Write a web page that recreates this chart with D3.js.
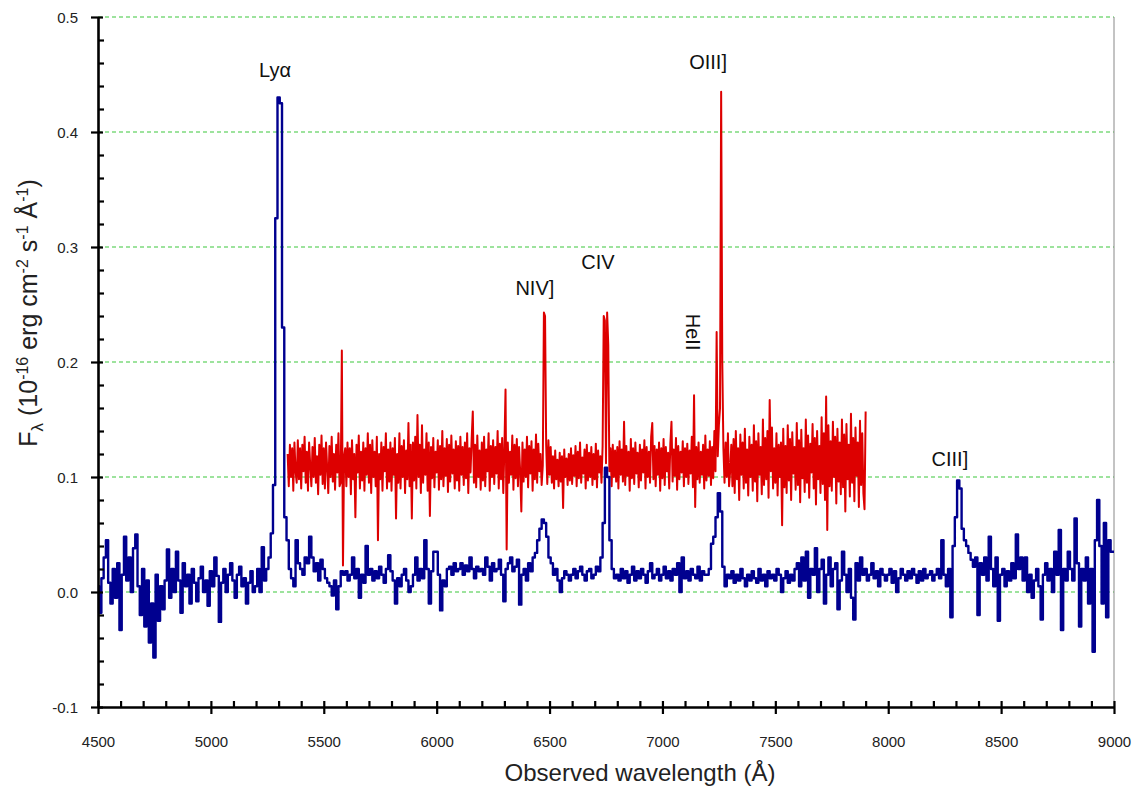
<!DOCTYPE html>
<html><head><meta charset="utf-8">
<script src="https://cdn.jsdelivr.net/npm/d3@7"></script>
<style>body{margin:0;background:#fff}</style>
</head><body>
<svg id="c" width="1135" height="787"></svg>
<script>
// Blue spectrum: sampled every 10 Å from 4500 Å, flux in units of 1e-3 (x 1e-16 erg cm-2 s-1 Å-1)
const blueStart = 4500, blueStep = 10;
const blueFlux = [
5,-18,12,30,45,8,-10,20,-5,25,
-33,15,48,10,30,0,38,50,5,-20,
20,-30,10,-44,-10,-57,15,-25,5,-15,
10,37,-5,20,0,35,10,-18,25,5,
15,-10,20,8,-8,12,22,0,10,-12,
18,5,30,14,-26,8,20,0,15,25,
10,-5,15,22,5,12,-10,8,18,0,
5,20,0,39,10,20,30,51,93,325,
430,425,230,65,45,20,12,5,45,25,
20,15,30,25,48,30,18,25,10,28,
20,12,8,5,-3,10,-15,5,18,15,
18,10,15,30,12,20,-5,15,8,40,
15,20,10,18,12,22,15,8,20,32,
18,10,-10,12,5,15,20,10,0,5,
15,30,10,20,12,45,20,-10,18,35,
35,15,-16,10,5,20,22,15,25,18,
20,25,15,23,18,30,20,12,22,18,
20,15,30,22,10,25,18,20,28,15,
-8,20,25,30,18,22,28,-11,15,20,
10,25,18,30,34,45,55,63,60,48,
30,25,15,20,10,0,12,18,15,10,
15,20,12,18,22,15,10,18,20,12,
15,22,18,30,60,108,100,45,20,12,
15,10,20,12,18,8,15,22,10,18,
12,20,15,8,18,25,12,15,20,10,
15,22,12,18,10,20,15,25,0,30,
12,18,10,20,15,12,22,10,18,15,
15,20,42,48,65,86,70,22,5,15,
12,18,8,15,10,20,12,5,15,10,
18,12,8,20,10,15,5,18,12,15,
10,20,15,0,12,18,8,15,10,20,
25,5,30,10,35,-5,20,15,38,0,
20,28,-10,15,30,5,20,25,-15,10,
35,15,0,20,-5,-24,25,10,30,15,
20,10,15,25,12,18,5,20,15,10,
15,20,8,18,0,12,20,15,10,18,
12,20,15,8,18,10,20,12,15,18,
10,15,20,12,45,15,5,20,-22,40,
65,97,90,55,45,40,34,28,22,30,
-20,25,15,30,10,48,20,5,30,-25,
15,20,5,18,10,25,12,50,20,30,
10,30,0,15,-5,10,20,5,-24,15,
25,10,20,0,35,15,54,-33,20,10,
35,20,10,64,25,-30,20,10,30,-10,
20,-52,45,80,40,-10,60,-22,45,35,
35
];
// Red spectrum: sampled every 5 Å from 5340 Å, flux in units of 1e-3
const redStart = 5340, redStep = 5;
const redFlux = [
120,92,128,100,125,88,130,105,95,132,98,125,
90,128,105,135,95,122,88,130,110,92,126,100,134,95,118,85,128,102,136,94,
125,90,130,108,86,127,100,135,96,120,89,128,104,138,92,95,210,23,118,125,
92,130,100,125,85,132,98,120,65,128,104,136,90,122,97,130,88,125,102,138,
95,128,86,132,100,122,92,135,45,120,98,130,88,126,105,138,90,124,96,130,
88,125,102,134,64,120,95,138,90,127,100,132,86,123,98,147,92,128,64,130,
97,135,90,154,100,128,86,145,95,124,102,138,88,130,66,126,99,134,91,122,
104,132,89,127,98,140,92,125,101,133,87,128,96,136,103,124,90,131,97,127,
88,135,102,126,93,130,99,138,86,125,104,133,157,95,128,91,136,100,123,89,
130,97,135,92,124,105,138,88,127,100,132,94,126,103,140,90,129,98,134,86,
125,176,37,130,95,122,102,136,89,128,99,133,92,126,104,70,130,96,124,100,
135,91,127,103,131,88,124,98,137,95,129,105,120,93,110,243,240,128,94,132,
102,126,95,118,90,123,98,115,92,121,96,118,73,124,100,116,93,120,97,125,
94,119,101,127,92,122,99,130,95,117,103,124,90,128,97,121,100,126,93,120,
98,129,91,123,104,118,95,127,240,236,112,243,215,105,125,92,128,100,123,96,
126,90,131,102,124,96,148,93,127,101,122,88,133,99,125,94,130,103,121,91,
128,97,124,104,132,90,126,100,122,95,135,147,98,127,92,124,102,130,88,125,
99,133,93,126,105,121,90,129,148,96,124,101,134,89,127,98,122,104,131,92,
125,100,129,94,123,103,135,91,171,74,126,98,130,95,122,102,128,90,136,97,
124,101,131,93,126,99,140,105,226,118,145,160,435,200,125,95,130,100,138,92,
105,128,92,133,86,140,98,125,80,137,102,130,90,142,95,124,84,135,100,128,
88,145,96,131,79,138,102,126,85,150,93,134,98,140,82,167,105,143,90,125,
95,138,84,128,100,130,58,142,91,127,86,145,97,133,80,139,103,126,89,147,
93,132,78,141,99,125,87,150,95,136,82,129,104,146,90,134,76,140,98,127,
86,152,94,138,80,170,54,145,92,131,88,148,100,135,77,142,96,130,85,150,
91,137,70,146,98,128,83,155,95,134,79,143,101,130,74,149,93,138,86,72,
157
];
const xTicks = [4500,5000,5500,6000,6500,7000,7500,8000,8500,9000];
const xTickLabels = ["4500","5000","5500","6000","6500","7000","7500","8000","8500","9000"];
const yTicks = [-0.1,0,0.1,0.2,0.3,0.4,0.5];
const yTickLabels = ["-0.1","0.0","0.1","0.2","0.3","0.4","0.5"];
const gridValues = [0,0.1,0.2,0.3,0.4,0.5];
const lineLabels = [
  {text:"Lyα", w:5284, f:0.448, rot:0},
  {text:"OIII]", w:7202, f:0.455, rot:0},
  {text:"CIV", w:6714, f:0.281, rot:0},
  {text:"NIV]", w:6435, f:0.258, rot:0},
  {text:"HeII", w:7135, f:0.226, rot:90},
  {text:"CIII]", w:8273, f:0.110, rot:0}
];

const FONT = "'Liberation Sans', Arial, Helvetica, sans-serif";
const svg = d3.select("#c");
svg.append("rect").attr("width",1135).attr("height",787).attr("fill","#fff");

const x = d3.scaleLinear().domain([4500,9000]).range([98,1114]);
const y = d3.scaleLinear().domain([-0.1,0.5]).range([707,17]);

const blue = blueFlux.map((v,i)=>({w: blueStart + i*blueStep, f: v/1000}));
const red = redFlux.map((v,i)=>({w: redStart + i*redStep, f: v/1000}));

// gridlines
svg.append("g").selectAll("line").data(gridValues).join("line")
  .attr("x1", x(4500)).attr("x2", x(9000))
  .attr("y1", d=>y(d)).attr("y2", d=>y(d))
  .attr("stroke","#3cc83c").attr("stroke-width",1.2).attr("stroke-dasharray","4,3");

// right border
svg.append("line").attr("x1",x(9000)).attr("x2",x(9000)).attr("y1",y(0.5)).attr("y2",y(-0.1))
  .attr("stroke","#888").attr("stroke-width",1);

// spectra
svg.append("path").datum(red)
  .attr("d", d3.line().x(d=>x(d.w)).y(d=>y(d.f)))
  .attr("fill","none").attr("stroke","#dd0000").attr("stroke-width",2).attr("stroke-linejoin","round");
svg.append("path").datum(blue)
  .attr("d", d3.line().curve(d3.curveStep).x(d=>x(d.w)).y(d=>y(d.f)))
  .attr("fill","none").attr("stroke","#00008f").attr("stroke-width",2.4).attr("stroke-linejoin","round");

// axes
const xMinor = d3.range(4600,9000,100).filter(v=>v%500!==0);
const yMinor = d3.range(-8,50,2).filter(v=>v%10!==0).map(v=>v/100);

const gx = svg.append("g").attr("transform",`translate(0,${y(-0.1)})`);
gx.call(d3.axisBottom(x).tickValues(xTicks).tickSizeInner(7).tickSizeOuter(0)
  .tickFormat((d,i)=>xTickLabels[i]).tickPadding(22));
gx.append("g").call(d3.axisBottom(x).tickValues(xTicks).tickSize(-6).tickFormat(""))
  .select(".domain").remove();
gx.append("g").call(d3.axisBottom(x).tickValues(xMinor).tickSize(-6).tickFormat(""))
  .select(".domain").remove();

const gy = svg.append("g").attr("transform",`translate(${x(4500)},0)`);
gy.call(d3.axisLeft(y).tickValues(yTicks).tickSizeInner(7).tickSizeOuter(0)
  .tickFormat((d,i)=>yTickLabels[i]).tickPadding(13));
gy.append("g").call(d3.axisLeft(y).tickValues(yTicks).tickSize(-5).tickFormat(""))
  .select(".domain").remove();
gy.append("g").call(d3.axisLeft(y).tickValues(yMinor).tickSize(-6).tickFormat(""))
  .select(".domain").remove();

svg.selectAll(".domain").attr("stroke","#000").attr("stroke-width",2.6);
svg.selectAll(".tick line").attr("stroke","#000").attr("stroke-width",2.2);
svg.selectAll(".tick text").attr("font-family",FONT).attr("font-size",15).attr("fill","#222");
gy.selectAll(".tick text").attr("dy","0.35em");

// axis titles
svg.append("text").attr("x",640).attr("y",781).attr("text-anchor","middle")
  .attr("font-family",FONT).attr("font-size",24).attr("fill","#222")
  .text("Observed wavelength (Å)");

const yt = svg.append("text").attr("transform","translate(37,313) rotate(-90)")
  .attr("text-anchor","middle").attr("font-family",FONT).attr("font-size",25).attr("fill","#222");
yt.append("tspan").text("F");
yt.append("tspan").attr("font-size",17).attr("dy",6).text("λ");
yt.append("tspan").attr("dy",-6).text(" (10");
yt.append("tspan").attr("font-size",16).attr("dy",-9).text("-16");
yt.append("tspan").attr("dy",9).text(" erg cm");
yt.append("tspan").attr("font-size",16).attr("dy",-9).text("-2");
yt.append("tspan").attr("dy",9).text(" s");
yt.append("tspan").attr("font-size",16).attr("dy",-9).text("-1");
yt.append("tspan").attr("dy",9).text(" Å");
yt.append("tspan").attr("font-size",16).attr("dy",-9).text("-1");
yt.append("tspan").attr("dy",9).text(")");

// line labels
svg.append("g").selectAll("text").data(lineLabels).join("text")
  .attr("transform", d => d.rot ? `translate(${x(d.w)},${y(d.f)}) rotate(${d.rot})` : `translate(${x(d.w)},${y(d.f)})`)
  .attr("text-anchor","middle")
  .attr("dominant-baseline", d => d.rot ? "central" : "auto")
  .attr("font-family",FONT).attr("font-size",20).attr("fill","#111")
  .text(d=>d.text);
</script>
</body></html>
